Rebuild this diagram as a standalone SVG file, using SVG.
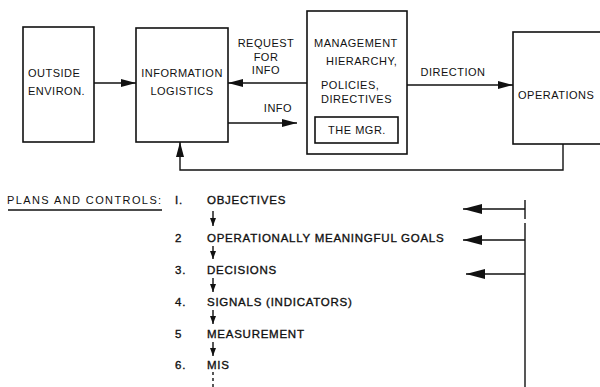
<svg xmlns="http://www.w3.org/2000/svg" width="600" height="387" viewBox="0 0 600 387">
<style>
.box{fill:#fff;stroke:#111;stroke-width:1.6}
.ln{fill:none;stroke:#111;stroke-width:1.4}
.t{font-family:"Liberation Sans",Arial,sans-serif;font-size:11px;letter-spacing:0.5px;fill:#111}
.b{font-family:"Liberation Sans",Arial,sans-serif;font-size:11.5px;letter-spacing:0.75px;fill:#111;stroke:#111;stroke-width:0.35px}
.m{text-anchor:middle}
</style>
<defs>
<marker id="ah" viewBox="0 0 15 8" refX="15" refY="4" markerWidth="15" markerHeight="8" markerUnits="userSpaceOnUse" orient="auto">
<path d="M0,0 L15,4 L0,8 Z" fill="#111"/>
</marker>
<marker id="ahL" viewBox="0 0 19 10" refX="19" refY="5" markerWidth="19" markerHeight="10" markerUnits="userSpaceOnUse" orient="auto">
<path d="M0,0 L19,5 L0,10 Z" fill="#111"/>
</marker>
<marker id="ahS" viewBox="0 0 8 6" refX="8" refY="3" markerWidth="8" markerHeight="6" markerUnits="userSpaceOnUse" orient="auto">
<path d="M0,0 L8,3 L0,6 Z" fill="#111"/>
</marker>
</defs>

<g id="connectors">
<line class="ln" x1="94" y1="83" x2="136" y2="83" marker-end="url(#ah)"/>
<line class="ln" x1="307" y1="83" x2="228" y2="83" marker-end="url(#ah)"/>
<line class="ln" x1="228" y1="123" x2="297" y2="123" marker-end="url(#ah)"/>
<line class="ln" x1="407" y1="85" x2="513" y2="85" marker-end="url(#ah)"/>
<polyline class="ln" points="563,144 563,170 180,170 180,142" marker-end="url(#ah)"/>
<line class="ln" x1="213" y1="211" x2="213" y2="226" marker-end="url(#ahS)"/>
<line class="ln" x1="213" y1="246" x2="213" y2="259" marker-end="url(#ahS)"/>
<line class="ln" x1="213" y1="278" x2="213" y2="292" marker-end="url(#ahS)"/>
<line class="ln" x1="213" y1="310" x2="213" y2="324" marker-end="url(#ahS)"/>
<line class="ln" x1="213" y1="342" x2="213" y2="356" marker-end="url(#ahS)"/>
<line class="ln" x1="213" y1="372" x2="213" y2="387" stroke-dasharray="3,3"/>
<line class="ln" x1="525" y1="200" x2="525" y2="219"/>
<line class="ln" x1="525" y1="223" x2="525" y2="387"/>
<line class="ln" x1="525" y1="209" x2="463" y2="209" marker-end="url(#ahL)"/>
<line class="ln" x1="525" y1="240" x2="463" y2="240" marker-end="url(#ahL)"/>
<line class="ln" x1="525" y1="274" x2="466" y2="274" marker-end="url(#ahL)"/>
<text class="t m" x="266" y="47">REQUEST</text>
<text class="t m" x="266" y="61">FOR</text>
<text class="t m" x="266" y="74">INFO</text>
<text class="t m" x="278" y="112">INFO</text>
<text class="t m" x="453" y="76">DIRECTION</text>
</g>

<g id="outside">
<rect class="box" x="23" y="27" width="71" height="115"/>
<text class="t" x="28" y="77">OUTSIDE</text>
<text class="t" x="28" y="95">ENVIRON.</text>
</g>

<g id="infolog">
<rect class="box" x="136" y="28" width="92" height="114"/>
<text class="t m" x="182" y="77">INFORMATION</text>
<text class="t m" x="182" y="95">LOGISTICS</text>
</g>

<g id="mgmt">
<rect class="box" x="307" y="11" width="100" height="143"/>
<text class="t" x="314" y="47">MANAGEMENT</text>
<text class="t" x="326" y="65">HIERARCHY,</text>
<text class="t" x="321" y="89">POLICIES,</text>
<text class="t" x="321" y="103">DIRECTIVES</text>
<rect class="box" x="315" y="117" width="83" height="26"/>
<text class="t m" x="357" y="134">THE MGR.</text>
</g>

<g id="operations">
<rect class="box" x="513" y="32" width="100" height="112"/>
<text class="t" x="518" y="99">OPERATIONS</text>
</g>

<g id="plans">
<text class="t" x="7" y="204" style="letter-spacing:1.4px">PLANS AND CONTROLS:</text>
<line class="ln" x1="8" y1="210" x2="162" y2="210" stroke-width="1"/>
<text class="b" x="175" y="204">I.</text>
<text class="b" x="207" y="204">OBJECTIVES</text>
<text class="b" x="175" y="242">2</text>
<text class="b" x="207" y="242">OPERATIONALLY MEANINGFUL GOALS</text>
<text class="b" x="175" y="274">3.</text>
<text class="b" x="207" y="274">DECISIONS</text>
<text class="b" x="175" y="306">4.</text>
<text class="b" x="207" y="306">SIGNALS (INDICATORS)</text>
<text class="b" x="175" y="338">5</text>
<text class="b" x="207" y="338">MEASUREMENT</text>
<text class="b" x="175" y="369">6.</text>
<text class="b" x="207" y="369">MIS</text>
</g>
</svg>
